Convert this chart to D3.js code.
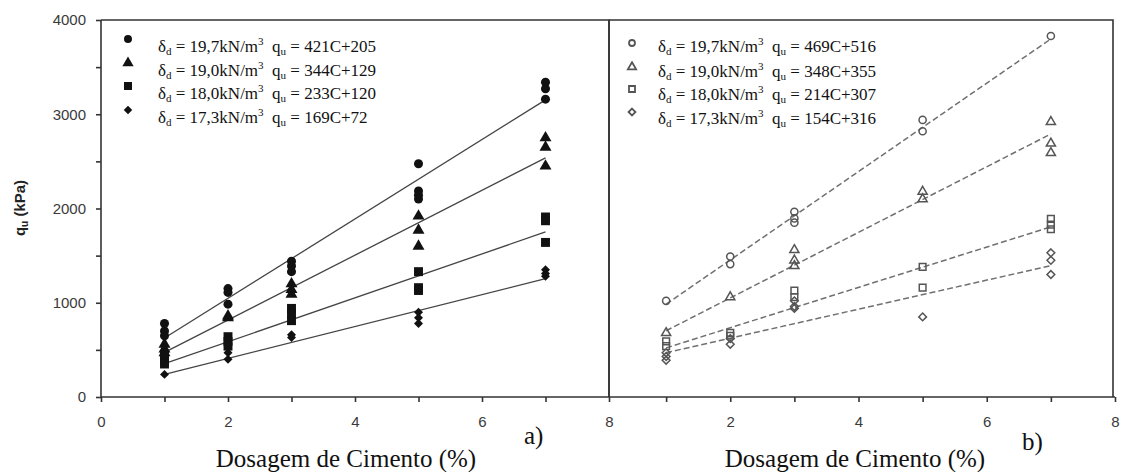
<!DOCTYPE html>
<html>
<head>
<meta charset="utf-8">
<script src="https://cdn.jsdelivr.net/npm/d3@7"></script>
<style>
  body { margin: 0; background: #fff; }
  svg { display: block; }
  .tick text { font-family: "Liberation Sans", Arial, sans-serif; font-size: 15px; fill: #3a3a3a; }
  .domain, .tick line { stroke: #333; stroke-width: 1.6; }
</style>
</head>
<body>
<div id="chart"></div>
<script>
// dosagem de cimento (%) e densidades ensaiadas
const dosagens = [1, 2, 3, 5, 7];
const densidades = ["19,7", "19,0", "18,0", "17,3"];

// equações de ajuste qu = a*C + b
const ajusteA = [[421, 205], [344, 129], [233, 120], [169, 72]];
const ajusteB = [[469, 516], [348, 355], [214, 307], [154, 316]];

// resultados qu (kPa) por dosagem, painel a)
const a197 = [[780, 700, 650], [1150, 1110, 985], [1440, 1390, 1330], [2475, 2185, 2140, 2100], [3340, 3270, 3160]];
const a190 = [[560, 510, 470], [860, 840], [1200, 1140, 1090], [1920, 1770, 1600], [2750, 2650, 2450]];
const a180 = [[430, 380, 350], [640, 590, 540], [940, 880, 810], [1330, 1160, 1130], [1910, 1870, 1640]];
const a173 = [[240], [470, 400], [660, 630], [900, 840, 780], [1350, 1310, 1280]];

// resultados qu (kPa) por dosagem, painel b)
const b197 = [[1020], [1490, 1410], [1965, 1895, 1850], [2940, 2820], [3830]];
const b190 = [[680], [1060], [1560, 1450, 1390], [2180, 2100], [2920, 2690, 2590]];
const b180 = [[590, 540], [680, 650], [1130, 1060], [1380, 1160], [1890, 1830, 1780]];
const b173 = [[470, 430, 390], [620, 560], [1020, 960, 940], [850], [1530, 1450, 1300]];

const yTicks = [0, 500, 1000, 1500, 2000, 2500, 3000, 3500, 4000];

const width = 1122, height = 472;

const svg = d3.select("#chart")
  .append("svg")
  .attr("width", width)
  .attr("height", height);

svg.append("rect").attr("width", width).attr("height", height).attr("fill", "#fff");

const y = d3.scaleLinear().domain([0, 4000]).range([397, 20]);

// losango com largura igual à altura
const losango = {
  draw(context, size) {
    const r = Math.sqrt(size / 2);
    context.moveTo(0, -r);
    context.lineTo(r, 0);
    context.lineTo(0, r);
    context.lineTo(-r, 0);
    context.closePath();
  }
};

const simbolos = [d3.symbolCircle, d3.symbolTriangle, d3.symbolSquare, losango];

const paineis = [
  {
    x: d3.scaleLinear().domain([0, 8]).range([101, 609]),
    frame: [101, 609],
    ajuste: ajusteA,
    dados: [a197, a190, a180, a173],
    xTicks: [0, 1, 2, 3, 4, 5, 6, 7, 8],
    cheio: true,
    tamanhos: [64, 62, 80, 40],
    legenda: { mx: 128, my: [39, 63, 86, 110], tx: 158, ty: [52, 76, 99, 123], tam: [50, 55, 64, 36] },
    letra: { t: "a)", x: 524, y: 444 },
    titulo: 346
  },
  {
    x: d3.scaleLinear().domain([0, 8]).range([602, 1115]),
    frame: [609, 1113],
    ajuste: ajusteB,
    dados: [b197, b190, b180, b173],
    xTicks: [1, 2, 3, 4, 5, 6, 7, 8],
    cheio: false,
    tamanhos: [40, 36, 45, 30],
    legenda: { mx: 632, my: [43, 67, 89, 112], tx: 658, ty: [52, 77, 100, 124], tam: [28, 30, 36, 24] },
    letra: { t: "b)", x: 1022, y: 450 },
    titulo: 855
  }
];

paineis.forEach((p, pi) => {
  const g = svg.append("g");

  // moldura superior e direita
  g.append("path")
    .attr("d", `M${p.frame[0]},${y(4000)}H${p.frame[1]}V${y(0)}`)
    .attr("fill", "none")
    .attr("stroke", "#333")
    .attr("stroke-width", 1.6);

  // eixo x
  const xAxis = d3.axisBottom(p.x)
    .tickValues(p.xTicks)
    .tickSize(5)
    .tickPadding(14)
    .tickFormat(d => d % 2 === 0 ? d : "");
  const gx = g.append("g")
    .attr("transform", `translate(0,${y(0)})`)
    .call(xAxis);
  gx.select(".domain").attr("d", `M${pi === 0 ? p.x(0) : p.frame[0]},0H${p.x(8)}`);

  // eixo y (apenas no primeiro painel tem rótulos)
  if (pi === 0) {
    g.append("g")
      .attr("transform", `translate(${p.x(0)},0)`)
      .call(d3.axisLeft(y)
        .tickValues(yTicks)
        .tickSize(5)
        .tickPadding(10)
        .tickFormat(d => d % 1000 === 0 ? d : ""))
      .select(".domain").attr("d", `M0,${y(0)}V${y(4000)}`);
  } else {
    g.append("line")
      .attr("x1", p.frame[0]).attr("x2", p.frame[0])
      .attr("y1", y(0)).attr("y2", y(4000))
      .attr("stroke", "#333").attr("stroke-width", 1.6);
  }

  // retas de ajuste
  const linha = d3.line().x(d => p.x(d[0])).y(d => y(d[1]));
  p.ajuste.forEach(([a, b]) => {
    g.append("path")
      .attr("d", linha([[1, a + b], [7, 7 * a + b]]))
      .attr("fill", "none")
      .attr("stroke", p.cheio ? "#444" : "#707070")
      .attr("stroke-width", p.cheio ? 1.3 : 1.5)
      .attr("stroke-dasharray", p.cheio ? null : "6,3");
  });

  // pontos ensaiados
  p.dados.forEach((serie, si) => {
    const pts = [];
    serie.forEach((vals, di) => vals.forEach(v => pts.push([dosagens[di], v])));
    const sym = d3.symbol().type(simbolos[si]).size(p.tamanhos[si]);
    g.append("g").selectAll("path")
      .data(pts)
      .join("path")
      .attr("d", sym)
      .attr("transform", d => `translate(${p.x(d[0])},${y(d[1])})`)
      .attr("fill", p.cheio ? "#111" : "none")
      .attr("stroke", p.cheio ? "none" : "#555")
      .attr("stroke-width", 1.5);
  });

  // legenda
  const L = p.legenda;
  p.ajuste.forEach(([a, b], i) => {
    g.append("path")
      .attr("d", d3.symbol().type(simbolos[i]).size(L.tam[i])())
      .attr("transform", `translate(${L.mx},${L.my[i]})`)
      .attr("fill", p.cheio ? "#111" : "none")
      .attr("stroke", p.cheio ? "none" : "#555")
      .attr("stroke-width", 1.8);

    const t = g.append("text")
      .attr("x", L.tx)
      .attr("y", L.ty[i])
      .attr("font-family", "'Liberation Serif', 'Times New Roman', serif")
      .attr("font-size", 17)
      .attr("fill", "#111");
    t.append("tspan").text("δ");
    t.append("tspan").attr("font-size", 11).attr("dy", 3).text("d");
    t.append("tspan").attr("dy", -3).text(` = ${densidades[i]}kN/m`);
    t.append("tspan").attr("font-size", 11).attr("dy", -7).text("3");
    t.append("tspan").attr("dy", 7).attr("xml:space", "preserve").text("  q");
    t.append("tspan").attr("font-size", 11).attr("dy", 3).text("u");
    t.append("tspan").attr("dy", -3).text(` = ${a}C+${b}`);
  });

  // título do eixo x e identificação do painel
  g.append("text")
    .attr("x", p.titulo)
    .attr("y", 467)
    .attr("text-anchor", "middle")
    .attr("font-family", "'Liberation Serif', 'Times New Roman', serif")
    .attr("font-size", 25)
    .attr("fill", "#111")
    .text("Dosagem de Cimento (%)");

  g.append("text")
    .attr("x", p.letra.x)
    .attr("y", p.letra.y)
    .attr("font-family", "'Liberation Serif', 'Times New Roman', serif")
    .attr("font-size", 25)
    .attr("fill", "#111")
    .text(p.letra.t);
});

// título do eixo y
const ty = svg.append("text")
  .attr("transform", "translate(25,208) rotate(-90)")
  .attr("text-anchor", "middle")
  .attr("font-family", "'Liberation Sans', Arial, sans-serif")
  .attr("font-weight", "bold")
  .attr("font-size", 15)
  .attr("fill", "#222");
ty.append("tspan").text("q");
ty.append("tspan").attr("font-size", 10).attr("dy", 3).text("u");
ty.append("tspan").attr("dy", -3).text(" (kPa)");
</script>
</body>
</html>
